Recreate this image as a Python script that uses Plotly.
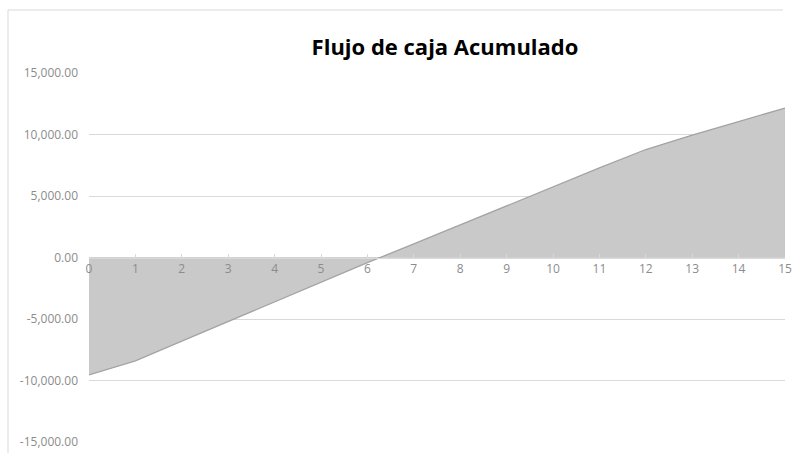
import plotly.graph_objects as go

years = list(range(16))
cumulative = [-9550, -8400, -6800, -5200, -3600, -2000, -420, 1100,
              2650, 4200, 5750, 7280, 8780, 9950, 11050, 12150]
y_ticks = [-15000, -10000, -5000, 0, 5000, 10000, 15000]
y_tick_labels = ["-15,000.00", "-10,000.00", "-5,000.00", "0.00",
                 "5,000.00", "10,000.00", "15,000.00"]
title = "Flujo de caja Acumulado"

W, H = 793, 453
L, R, T, B = 89, 8, 73, 11
pw, ph = W - L - R, H - T - B

fig = go.Figure()
fig.add_trace(go.Scatter(
    x=years, y=cumulative, mode="lines", fill="tozeroy",
    fillcolor="#c9c9c9", line=dict(color="#a3a3a3", width=1.3),
    hoverinfo="x+y", showlegend=False,
))

font_family = "'Open Sans', 'Noto Sans', sans-serif"
fig.update_layout(
    width=W, height=H,
    margin=dict(l=L, r=R, t=T, b=B, autoexpand=False),
    paper_bgcolor="white", plot_bgcolor="white",
    title=dict(text=f"<b>{title}</b>", x=445 / W, xanchor="center",
               y=1 - 47 / H, yanchor="middle",
               font=dict(family=font_family, size=22, color="#000000")),
    xaxis=dict(range=[0, 15], tickvals=years, ticktext=[str(v) for v in years],
               anchor="free", position=0.5, showgrid=False,
               showline=True, linecolor="#d9d9d9", linewidth=1,
               ticks="inside", ticklen=4, tickcolor="#d9d9d9",
               ticklabeloverflow="allow",
               tickfont=dict(family=font_family, size=12, color="#8c8c8c"),
               zeroline=False, fixedrange=True),
    yaxis=dict(range=[-15000, 15000], tickvals=y_ticks, ticktext=y_tick_labels,
               showgrid=True, gridcolor="#d9d9d9", gridwidth=1,
               zeroline=False, showline=False, ticks="",
               ticklabelstandoff=10,
               tickfont=dict(family=font_family, size=12, color="#8c8c8c")),
    shapes=[
        dict(type="line", xref="paper", yref="paper",
             x0=(8 - L) / pw, x1=(783 - L) / pw,
             y0=1 + (T - 10) / ph, y1=1 + (T - 10) / ph,
             line=dict(color="#d9d9d9", width=1)),
        dict(type="line", xref="paper", yref="paper",
             x0=(8 - L) / pw, x1=(8 - L) / pw,
             y0=1 + (T - 10) / ph, y1=-B / ph,
             line=dict(color="#d9d9d9", width=1)),
    ],
)

fig.write_html(
    "out.html",
    config={"displayModeBar": False},
    post_script="document.body.style.margin='0';document.body.style.overflow='hidden';",
)
